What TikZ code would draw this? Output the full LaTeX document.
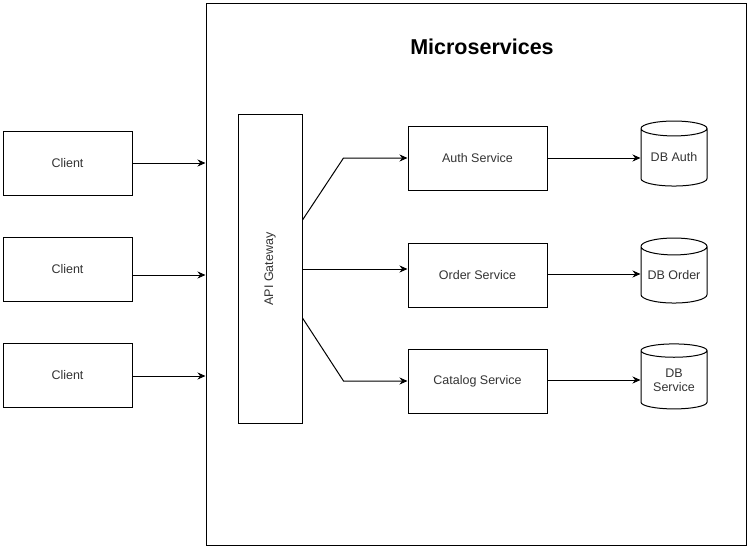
\documentclass[tikz,border=0pt]{standalone}
\usepackage{fontspec}
\setmainfont{Liberation Sans}
\usetikzlibrary{arrows.meta}
\usetikzlibrary{shapes.geometric}

\tikzset{
  flow/.style={-{Stealth[length=8pt,width=7pt]}},
  txt/.style={font=\fontsize{12.5}{14}\selectfont, text=black!80},
  client/.style={draw, txt, minimum width=129pt, minimum height=64pt, inner sep=0pt},
  service/.style={draw, txt, minimum width=139pt, minimum height=64pt, inner sep=0pt},
  db/.style={draw, txt, cylinder, shape border rotate=90, aspect=0.32, minimum width=66pt, minimum height=65pt, inner sep=0pt, align=center},
}

\begin{document}
\begin{tikzpicture}[x=1pt, y=-1pt, line width=1pt]
\useasboundingbox (0,0) rectangle (753,551);
\node[draw, minimum width=540pt, minimum height=541pt, inner sep=0pt] (frame) at (476,274.5) {};
\node[font=\bfseries\fontsize{21.5}{25}\selectfont] (title) at (482,47) {Microservices};
%clients
\node[client] (c1) at (67.5,163) {Client};
\node[client] (c2) at (67.5,269.5) {Client};
\node[client] (c3) at (67.5,375) {Client};
\draw[flow] (c1.east) -- (c1.east -| frame.west);
\draw[flow] ([yshift=-5.5pt]c2.east) -- ([yshift=-5.5pt]c2.east -| frame.west);
\draw[flow] ([yshift=-1pt]c3.east) -- ([yshift=-1pt]c3.east -| frame.west);
%gateway
\node[draw, minimum width=64pt, minimum height=308pt, inner sep=0pt,
  label={[txt, rotate=90]center:API Gateway}] (gw) at (270,269) {};
\node[service] (auth) at (477.5,158) {Auth Service};
\node[service] (ord) at (477.5,275) {Order Service};
\node[service] (cat) at (477.5,381) {Catalog Service};
\draw[flow] ([yshift=49pt]gw.east) -- ([xshift=-64pt]auth.west) -- (auth.west);
\draw[flow] (gw.east) -- (gw.east -| ord.west);
\draw[flow] ([yshift=-49pt]gw.east) -- ([xshift=-64pt]cat.west) -- (cat.west);
%databases
\node[db] (dbauth) at (674,157.5) {DB Auth};
\node[db] (dbord) at (674,275) {DB Order};
\node[db] (dbcat) at (674,380) {DB\\Service};
\draw[flow] (auth.east) -- (auth.east -| dbauth.west);
\draw[flow] ([yshift=1pt]ord.east) -- ([yshift=1pt]ord.east -| dbord.west);
\draw[flow] ([yshift=1pt]cat.east) -- ([yshift=1pt]cat.east -| dbcat.west);
\end{tikzpicture}
\end{document}
